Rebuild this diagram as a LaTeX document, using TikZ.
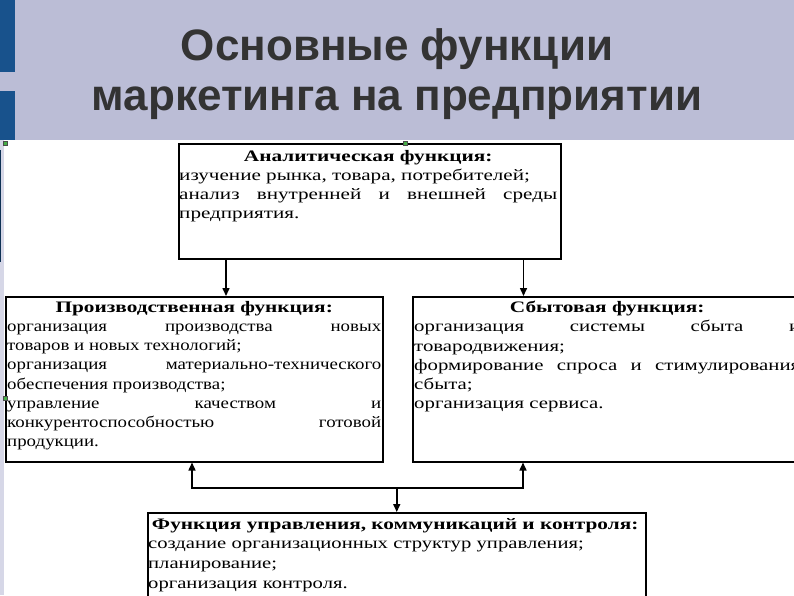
\documentclass[tikz,border=0pt]{standalone}
\usepackage{fontspec}
\setmainfont{Liberation Serif}[BoldFeatures={FakeStretch=1.33}]
\newfontfamily\titlefont{Liberation Sans}
\newfontfamily\anafont{Liberation Serif}[FakeStretch=1.32]
\newfontfamily\prodfont{Liberation Serif}[FakeStretch=1.18]
\newfontfamily\salesfont{Liberation Serif}[FakeStretch=1.30]
\newfontfamily\mgmtfont{Liberation Serif}[FakeStretch=1.29]
\usetikzlibrary{positioning,arrows.meta}
\definecolor{headbg}{RGB}{187,189,214}
\definecolor{barblue}{RGB}{24,82,140}
\definecolor{titlegray}{RGB}{51,51,51}
\definecolor{handle}{RGB}{70,175,70}

\begin{document}
\begin{tikzpicture}[x=1pt, y=-1pt, >={Triangle[length=8pt,width=7pt]},
    func/.style={draw, line width=1.5pt, inner sep=0pt, anchor=north west},
    functext/.style={anchor=north west, inner sep=0pt, align=justify,
      font=\fontsize{16}{19}\selectfont},
    link/.style={line width=1.5pt},
    grip/.style={fill=handle, draw=black!70, line width=0.3pt, minimum size=4pt, inner sep=0pt}]

    \useasboundingbox (0,0) rectangle (794,595);
    \clip (0,0) rectangle (794,595);

    % Header band
    \fill[headbg] (0,0) rectangle (794,140);
    \fill[headbg!60] (0,140) rectangle (4,595);
    \fill[barblue] (0,0) rectangle (15,72);
    \fill[barblue] (0,91) rectangle (15,140);
    \draw[barblue!60!black, line width=1.2pt] (0.6,150) -- (0.6,262);
    \node[font=\titlefont\bfseries\fontsize{44}{50}\selectfont, text=titlegray, align=center]
      (title) at (397,74) {Основные функции\\маркетинга на предприятии};

    % Analytic function
    \node[func, minimum width=382pt, minimum height=115pt] (anal) at (178,143) {};
    \node[functext, text width=378pt] (analtext) at ([xshift=1pt,yshift=-7pt]anal.north west)
      {\anafont{\centering\rmfamily\bfseries Аналитическая функция:\par}
       изучение рынка, товара, потребителей;\par
       анализ внутренней и внешней среды\linebreak предприятия.};

    % Production function
    \node[func, minimum width=377pt, minimum height=165pt] (prod) at (5,296) {};
    \node[functext, text width=374pt, font=\fontsize{16}{19.2}\selectfont] (prodtext)
      at ([xshift=2pt,yshift=-5pt]prod.north west)
      {\prodfont{\centering\rmfamily\bfseries Производственная функция:\par}
       организация производства новых\linebreak товаров и новых технологий;\par
       организация материально-технического\linebreak обеспечения производства;\par
       управление качеством и\linebreak конкурентоспособностью готовой\linebreak продукции.};

    % Sales function
    \node[func, minimum width=395pt, minimum height=165pt] (sales) at (412,296) {};
    \node[functext, text width=386pt, font=\fontsize{16}{19.2}\selectfont] (salestext)
      at ([xshift=2pt,yshift=-5pt]sales.north west)
      {\salesfont{\centering\rmfamily\bfseries Сбытовая функция:\par}
       организация системы сбыта и\linebreak товародвижения;\par
       формирование спроса и стимулирования\linebreak сбыта;\par
       организация сервиса.};

    % Management function
    \node[func, minimum width=498pt, minimum height=110pt] (mgmt) at (147,512) {};
    \node[functext, text width=494pt, align=left, font=\fontsize{16}{19.6}\selectfont] (mgmttext)
      at ([xshift=1pt,yshift=-6pt]mgmt.north west)
      {\mgmtfont{\centering\rmfamily\bfseries Функция управления, коммуникаций и контроля:\par}
       создание организационных структур управления;\\
       планирование;\\
       организация контроля.};

    % Connectors
    \draw[link,->] ([xshift=48pt]anal.south west) -- ([xshift=48pt]anal.south west |- prod.north);
    \draw[link,->] ([xshift=-38pt]anal.south east) -- ([xshift=-38pt]anal.south east |- sales.north);
    \coordinate (hub) at ([yshift=24pt]mgmt.north);
    \coordinate (hubL) at (192,0 |- hub);
    \coordinate (hubR) at (523,0 |- hub);
    \draw[link,<->] (hubL |- prod.south) -- (hubL) -- (hubR) -- (hubR |- sales.south);
    \draw[link,->] (hub) -- (mgmt.north);

    % Selection grips
    \node[grip] (g1) at (5,143) {};
    \node[grip] (g2) at (405,143) {};
    \node[grip] (g3) at (5,398) {};
\end{tikzpicture}
\end{document}
